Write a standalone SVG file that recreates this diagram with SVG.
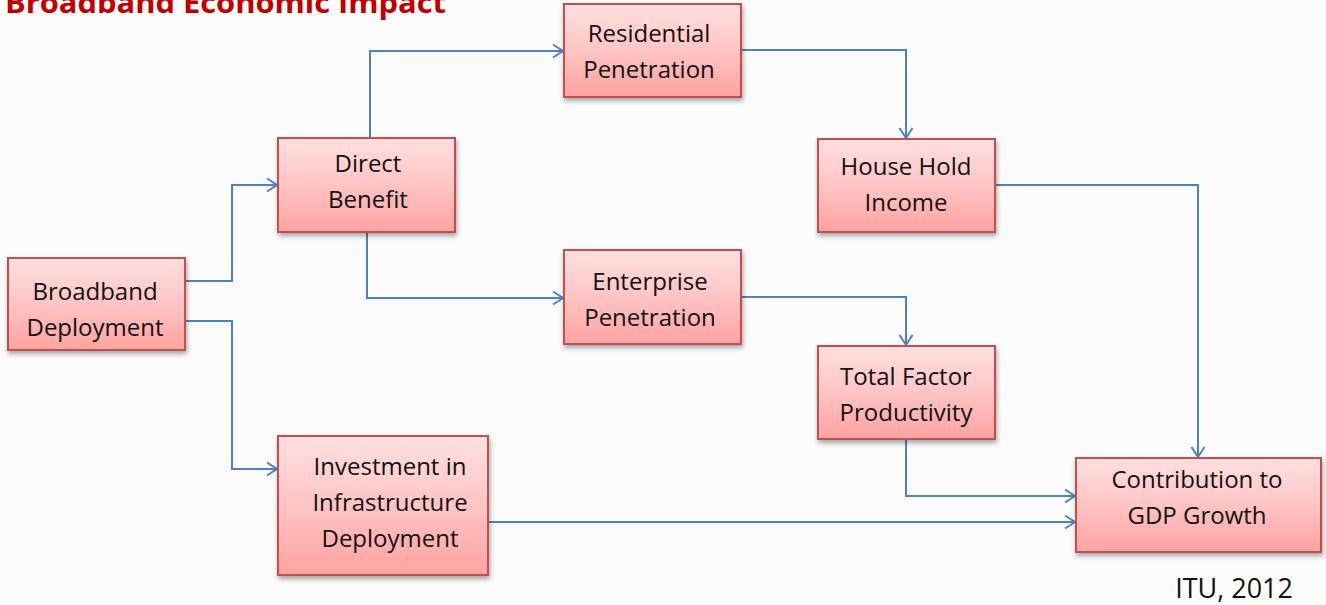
<svg xmlns="http://www.w3.org/2000/svg" width="1326" height="605" viewBox="0 0 1326 605">
<defs>
<linearGradient id="g" x1="0" y1="0" x2="0" y2="1">
<stop offset="0" stop-color="#FFE0E0"/>
<stop offset="0.5" stop-color="#FFC4C4"/>
<stop offset="1" stop-color="#FFA2A2"/>
</linearGradient>
<filter id="sh" x="-10%" y="-10%" width="125%" height="130%">
<feGaussianBlur in="SourceAlpha" stdDeviation="2.5"/>
<feOffset dx="1" dy="3"/>
<feComponentTransfer><feFuncA type="linear" slope="0.35"/></feComponentTransfer>
<feMerge><feMergeNode/><feMergeNode in="SourceGraphic"/></feMerge>
</filter>
<marker id="ah" markerWidth="16" markerHeight="16" refX="13" refY="8" orient="auto" markerUnits="userSpaceOnUse">
<path d="M3,1.5 L13,8 L3,14.5" fill="none" stroke="#4F81BD" stroke-width="2"/>
</marker>
</defs>
<style>
.box{fill:url(#g);stroke:#C0504D;stroke-width:2;filter:url(#sh)}
.t{font-family:"Open Sans","Liberation Sans",sans-serif;font-size:24px;fill:#111;text-anchor:middle}
.c{fill:none;stroke:#4F81BD;stroke-width:2;marker-end:url(#ah)}
</style>
<rect width="1326" height="605" fill="#FBFBFB"/>
<text x="5" y="13" font-family="'Open Sans','Liberation Sans',sans-serif" font-weight="bold" font-size="29" fill="#C00000" textLength="441" lengthAdjust="spacingAndGlyphs">Broadband Economic Impact</text>
<g id="connectors">
<path class="c" d="M186,281 H232 V185 H277"/>
<path class="c" d="M186,321 H232 V469 H277"/>
<path class="c" d="M370,137 V51 H563"/>
<path class="c" d="M367,233 V298 H563"/>
<path class="c" d="M742,50 H906 V138"/>
<path class="c" d="M996,185 H1198 V457"/>
<path class="c" d="M742,297 H906 V345"/>
<path class="c" d="M906,440 V496 H1075"/>
<path class="c" d="M489,522 H1075"/>
</g>
<g id="n-broadband"><rect class="box" x="8" y="258" width="177" height="92"/><text class="t" x="95" y="300">Broadband</text><text class="t" x="95" y="336">Deployment</text></g>
<g id="n-direct"><rect class="box" x="278" y="138" width="177" height="94"/><text class="t" x="368" y="172">Direct</text><text class="t" x="368" y="208">Benefit</text></g>
<g id="n-residential"><rect class="box" x="564" y="4" width="177" height="93"/><text class="t" x="649" y="42">Residential</text><text class="t" x="649" y="78">Penetration</text></g>
<g id="n-household"><rect class="box" x="818" y="139" width="177" height="93"/><text class="t" x="906" y="175">House Hold</text><text class="t" x="906" y="211">Income</text></g>
<g id="n-enterprise"><rect class="box" x="564" y="250" width="177" height="94"/><text class="t" x="650" y="290">Enterprise</text><text class="t" x="650" y="326">Penetration</text></g>
<g id="n-tfp"><rect class="box" x="818" y="346" width="177" height="93"/><text class="t" x="906" y="385">Total Factor</text><text class="t" x="906" y="421">Productivity</text></g>
<g id="n-investment"><rect class="box" x="278" y="436" width="210" height="139"/><text class="t" x="390" y="475">Investment in</text><text class="t" x="390" y="511">Infrastructure</text><text class="t" x="390" y="547">Deployment</text></g>
<g id="n-gdp"><rect class="box" x="1076" y="458" width="245" height="94"/><text class="t" x="1197" y="488">Contribution to</text><text class="t" x="1197" y="524">GDP Growth</text></g>
<text x="1293" y="598" font-family="'Open Sans','Liberation Sans',sans-serif" font-size="27" fill="#111" text-anchor="end">ITU, 2012</text>
</svg>
